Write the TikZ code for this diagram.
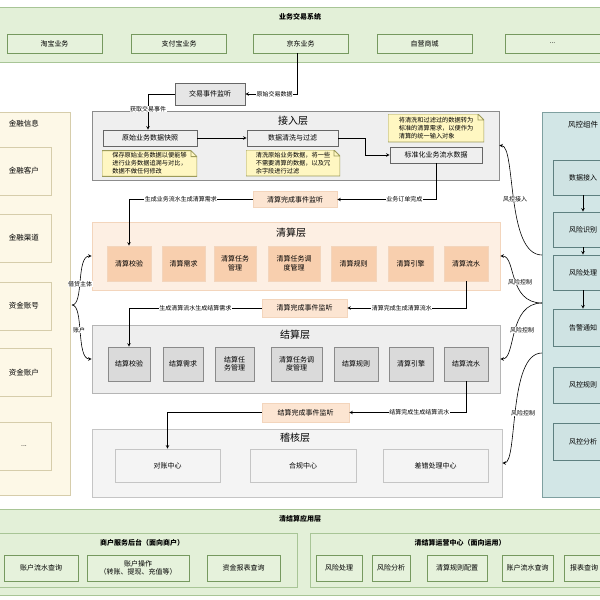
\documentclass[tikz,border=0pt]{standalone}
\usepackage{fontspec}
\setmainfont{Noto Sans CJK SC}
\definecolor{grnbg}{HTML}{E3F0D8}
\definecolor{grnln}{HTML}{A8C596}
\definecolor{grnit}{HTML}{E6F2DC}
\definecolor{grnitln}{HTML}{76995F}
\definecolor{evbg}{HTML}{E6E6E6}
\definecolor{evln}{HTML}{666666}
\definecolor{jrbg}{HTML}{EFEFEF}
\definecolor{jrln}{HTML}{8C8C8C}
\definecolor{notebg}{HTML}{FFF7C2}
\definecolor{noteln}{HTML}{9C9A5A}
\definecolor{qsev}{HTML}{FCE5D2}
\definecolor{qsbg}{HTML}{FDEFE3}
\definecolor{qsln}{HTML}{F3D5BC}
\definecolor{qsit}{HTML}{F8CFAE}
\definecolor{jsbg}{HTML}{EEEEEE}
\definecolor{jsln}{HTML}{B5B5B5}
\definecolor{jsit}{HTML}{DADADA}
\definecolor{jsitln}{HTML}{8A8A8A}
\definecolor{jhbg}{HTML}{F4F4F4}
\definecolor{jhln}{HTML}{C5C5C5}
\definecolor{xxbg}{HTML}{FDF8E7}
\definecolor{xxln}{HTML}{D6CDAB}
\definecolor{fkbg}{HTML}{D2E6E6}
\definecolor{fkln}{HTML}{7FA0A0}
\definecolor{fkit}{HTML}{CFE3E3}
\definecolor{fkitln}{HTML}{5E8080}

\begin{document}
\begin{tikzpicture}[x=1pt,y=-1pt,
	every node/.style={font=\fontsize{7}{8.5}\selectfont,inner sep=1pt,align=center},
	sz/.style 2 args={minimum width=#1pt,minimum height=#2pt},
	ttl/.style={font=\fontsize{10}{12}\selectfont},
	btl/.style={font=\bfseries\fontsize{7}{8.5}\selectfont},
	lbl/.style={fill=white,font=\fontsize{6}{7}\selectfont,inner sep=.5pt},
	arr/.style={-stealth,line width=.6pt},
	grnbox/.style={fill=grnbg,draw=grnln,line width=.8pt},
	grnitem/.style={fill=grnit,draw=grnitln,line width=.7pt},
	evbox/.style={fill=evbg,draw=evln,line width=.7pt},
	jrlayer/.style={fill=jrbg,draw=jrln,line width=.7pt},
	jritem/.style={fill=jrbg,draw=evln,line width=.7pt},
	qsevent/.style={fill=qsev,draw=qsln,line width=.6pt},
	qslayer/.style={fill=qsbg,draw=qsln,line width=.7pt},
	qsitem/.style={fill=qsit,draw=qsln,line width=.6pt},
	jslayer/.style={fill=jsbg,draw=jsln,line width=.7pt},
	jsitem/.style={fill=jsit,draw=jsitln,line width=.6pt},
	jhlayer/.style={fill=jhbg,draw=jhln,line width=.7pt},
	jhitem/.style={fill=jhbg,draw=jhln,line width=.7pt},
	xxlayer/.style={fill=xxbg,draw=xxln,line width=.7pt},
	xxitem/.style={fill=xxbg,draw=xxln,line width=.7pt},
	fklayer/.style={fill=fkbg,draw=fkln,line width=.7pt},
	fkitem/.style={fill=fkit,draw=fkitln,line width=.7pt},
	note/.style={fill=notebg,align=left,font=\fontsize{6.2}{8}\selectfont,inner sep=2pt,
		path picture={
			\fill[jrbg] ([xshift=-6pt]path picture bounding box.north east) -- (path picture bounding box.north east) -- ([yshift=-6pt]path picture bounding box.north east) -- cycle;
			\draw[noteln,line width=.8pt] (path picture bounding box.north west) -- ([xshift=-6pt]path picture bounding box.north east) -- ([yshift=-6pt]path picture bounding box.north east) -- (path picture bounding box.south east) -- (path picture bounding box.south west) -- cycle
			([xshift=-6pt]path picture bounding box.north east) |- ([yshift=-6pt]path picture bounding box.north east);}}]
	\useasboundingbox (0,0) rectangle (600,600);
	\clip (0,0) rectangle (600,600);

	\node[grnbox,sz={602}{55}] (sys) at (300,34.5) {};
	\node[btl] (systl) at (300,17) {业务交易系统};
	\node[grnitem,sz={95}{19}] (tb) at (54.5,43.5) {淘宝业务};
	\node[grnitem,sz={95}{19}] (zfb) at (179,43.5) {支付宝业务};
	\node[grnitem,sz={95}{19}] (jd) at (300.5,43.5) {京东业务};
	\node[grnitem,sz={95}{19}] (zy) at (424.5,43.5) {自营商城};
	\node[grnitem,sz={95}{19}] (more) at (552.5,43.5) {...};
	\node[evbox,sz={70}{22}] (jyjt) at (210,94) {交易事件监听};

	\node[jrlayer,sz={407}{69}] (jr) at (295.5,145.5) {};
	\node[ttl] (jrtl) at (293,121) {接入层};
	\node[jritem,sz={94}{16}] (ysnap) at (150,138) {原始业务数据快照};
	\node[note,sz={95}{25}] (note1) at (149.5,163.5) {保存原始业务数据以便能够\\进行业务数据追溯与对比，\\数据不做任何修改};
	\node[jritem,sz={91}{16}] (qxgl) at (292.5,138) {数据清洗与过滤};
	\node[note,sz={94}{26}] (note2) at (293,163) {清洗原始业务数据，将一些\\不需要清算的数据，以及冗\\余字段进行过滤};
	\node[note,sz={96}{28}] (note3) at (436,128) {将清洗和过滤过的数据转为\\标准的清算需求，以便作为\\清算的统一输入对象};
	\node[jritem,sz={92}{16}] (bzh) at (436,155) {标准化业务流水数据};

	\node[qsevent,sz={84}{16}] (qsjt1) at (295,199.5) {清算完成事件监听};
	\node[qslayer,sz={408}{68}] (qs) at (296,256) {};
	\node[ttl] (qstl) at (291,233) {清算层};
	\node[qsitem,sz={44}{35}] (qjy) at (129,263.5) {清算校验};
	\node[qsitem,sz={43}{35}] (qxq) at (183.5,263.5) {清算需求};
	\node[qsitem,sz={42}{35}] (qrw) at (235,263.5) {清算任务\\管理};
	\node[qsitem,sz={52}{35}] (qdd) at (294,263.5) {清算任务调\\度管理};
	\node[qsitem,sz={45}{35}] (qgz) at (353.5,263.5) {清算规则};
	\node[qsitem,sz={45}{35}] (qyq) at (410.5,263.5) {清算引擎};
	\node[qsitem,sz={44}{35}] (qls) at (466,263.5) {清算流水};

	\node[qsevent,sz={85}{18}] (qsjt2) at (304.5,308) {清算完成事件监听};
	\node[jslayer,sz={408}{68}] (js) at (296,359) {};
	\node[ttl] (jstl) at (295,335) {结算层};
	\node[jsitem,sz={42}{34}] (jjy) at (129,364) {结算校验};
	\node[jsitem,sz={40}{34}] (jxq) at (183,364) {结算需求};
	\node[jsitem,sz={39}{34}] (jrw) at (234.5,364) {结算任\\务管理};
	\node[jsitem,sz={51}{34}] (jdd) at (296.5,364) {清算任务调\\度管理};
	\node[jsitem,sz={44}{34}] (jgz) at (356,364) {结算规则};
	\node[jsitem,sz={44}{34}] (jyq) at (411,364) {清算引擎};
	\node[jsitem,sz={44}{34}] (jls) at (466,364) {结算流水};

	\node[qsevent,sz={87}{19}] (jsjt) at (305.5,412.5) {结算完成事件监听};
	\node[jhlayer,sz={410}{68}] (jh) at (297,463) {};
	\node[ttl] (jhtl) at (295,438) {稽核层};
	\node[jhitem,sz={105}{33}] (dz) at (167.5,465.5) {对账中心};
	\node[jhitem,sz={106}{33}] (hg) at (303,465.5) {合规中心};
	\node[jhitem,sz={105}{33}] (cc) at (435.5,465.5) {差错处理中心};

	\node[xxlayer,sz={80}{383}] (jrxx) at (30,303.5) {};
	\node[font=\fontsize{7.5}{9}\selectfont] (jrxxtl) at (24,124) {金融信息};
	\node[xxitem,sz={54}{48},font=\fontsize{7.5}{9}\selectfont] (jrkh) at (24,171) {金融客户};
	\node[xxitem,sz={54}{48},font=\fontsize{7.5}{9}\selectfont] (jrqd) at (24,238) {金融渠道};
	\node[xxitem,sz={54}{48},font=\fontsize{7.5}{9}\selectfont] (zjzh) at (24,306) {资金账号};
	\node[xxitem,sz={54}{48},font=\fontsize{7.5}{9}\selectfont] (zjzhu) at (24,372.5) {资金账户};
	\node[xxitem,sz={54}{48}] (xxmore) at (24,446) {...};

	\node[fklayer,sz={78}{385}] (fk) at (581,304.5) {};
	\node[font=\fontsize{7.5}{9}\selectfont] (fktl) at (583,125) {风控组件};
	\node[fkitem,sz={60}{35}] (sjjr) at (583,177.5) {数据接入};
	\node[fkitem,sz={60}{35}] (fxsb) at (583,229.5) {风险识别};
	\node[fkitem,sz={60}{35}] (fxcl) at (583,272.5) {风险处理};
	\node[fkitem,sz={60}{37}] (gjtz) at (583,327.5) {告警通知};
	\node[fkitem,sz={60}{36}] (fkgz) at (583,385) {风控规则};
	\node[fkitem,sz={60}{37}] (fkfx) at (583,441.5) {风控分析};

	\node[grnbox,sz={602}{86}] (app) at (300,552) {};
	\node[btl] (apptl) at (300,519) {清结算应用层};
	\node[grnbox,sz={302}{54}] (shfw) at (146,560) {};
	\node[btl] (shfwtl) at (142,543) {商户服务后台（面向商户）};
	\node[grnitem,sz={74}{26}] (zhls) at (41,568) {账户流水查询};
	\node[grnitem,sz={102}{26}] (zhcz) at (138,568) {账户操作\\（转账、提现、充值等）};
	\node[grnitem,sz={73}{26}] (zjbb) at (243.5,568) {资金报表查询};
	\node[grnbox,sz={300}{54}] (yyzx) at (460,560) {};
	\node[btl] (yyzxtl) at (460,543) {清结算运营中心（面向运用）};
	\node[grnitem,sz={46}{26}] (yfxcl) at (339,568) {风险处理};
	\node[grnitem,sz={38}{26}] (yfxfx) at (391,568) {风险分析};
	\node[grnitem,sz={60}{26}] (yqsgz) at (457,568) {清算规则配置};
	\node[grnitem,sz={51}{26}] (yzhls) at (527.5,568) {账户流水查询};
	\node[grnitem,sz={40}{26}] (ybbcx) at (584,568) {报表查询};

	\draw[arr] ([xshift=-3pt]jd.south) |- node[lbl,pos=.72] {原始交易数据} (jyjt.east);
	\draw[arr] (jyjt.west) -| node[lbl,pos=.71] {获取交易事件} ([xshift=-2pt]ysnap.north);
	\draw[arr] (ysnap.east) -- (qxgl.west);
	\draw[arr] (qxgl.east) -- ++(27,0) |- (bzh.west);
	\draw[arr] (bzh.south) |- node[lbl,pos=.66] {业务订单完成} (qsjt1.east);
	\draw[arr] (qsjt1.west) -| node[lbl,pos=.29] {生成业务流水生成清算需求} (qjy.north);
	\draw[arr] (qls.south) |- node[lbl,pos=.77] {清算完成生成清算流水} (qsjt2.east);
	\draw[arr] (qsjt2.west) -| node[lbl,pos=.25] {生成清算流水生成结算需求} (jjy.north);
	\draw[arr] (jls.south) |- node[lbl,pos=.70] {结算完成生成结算流水} (jsjt.east);
	\draw[arr] (jsjt.west) -| (dz.north);

	\draw[arr] (sjjr.south) -- (fxsb.north);
	\draw[arr] (fxsb.south) -- (fxcl.north);
	\draw[arr] (fxcl.south) -- (gjtz.north);

	\coordinate (brace) at (72,305);
	\draw[arr] (brace) .. controls (84,305) and (76,256) .. (qs.west);
	\draw[arr] (brace) .. controls (84,305) and (76,359) .. (js.west);
	\node[lbl] (jdzt) at (80,284) {借贷主体};
	\node[lbl] (zhlbl) at (79,330) {账户};

	\coordinate (fkA) at (542,255);
	\coordinate (fkB) at (542,303);
	\coordinate (fkC) at (542,353);
	\draw[arr] (fkA) .. controls (506,255) and (516,146) .. (jr.east);
	\draw[arr] (fkB) .. controls (508,303) and (516,256) .. (qs.east);
	\draw[arr] (fkB) .. controls (508,303) and (516,359) .. (js.east);
	\draw[arr] (fkC) .. controls (508,353) and (518,463) .. (jh.east);
	\node[lbl] (fkjr) at (515,199) {风控接入};
	\node[lbl] (fkkz1) at (520,282) {风险控制};
	\node[lbl] (fkkz2) at (522,330) {风险控制};
	\node[lbl] (fkkz3) at (523,413) {风险控制};
\end{tikzpicture}
\end{document}
